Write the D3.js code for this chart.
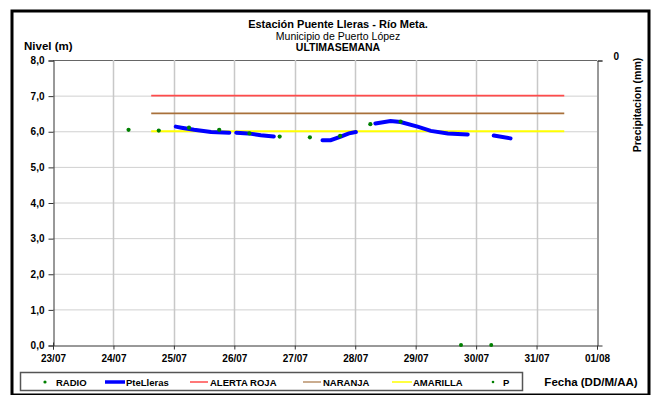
<!DOCTYPE html>
<html><head><meta charset="utf-8">
<script src="https://cdn.jsdelivr.net/npm/d3@7/dist/d3.min.js"></script>
<style>body{margin:0;background:#fff}svg{display:block;font-family:"Liberation Sans",Arial,sans-serif}</style>
</head><body><svg id="c" width="651" height="395"></svg>
<script>
const xTickDates = ["2013-07-23","2013-07-24","2013-07-25","2013-07-26","2013-07-27","2013-07-28","2013-07-29","2013-07-30","2013-07-31","2013-08-01"];
const yTicks = [0,1,2,3,4,5,6,7,8];
const pteTimes = ["2013-07-25T00:45","2013-07-25T03:00","2013-07-25T08:00","2013-07-25T14:45","2013-07-25T22:00","2013-07-25T23:30",
 "2013-07-26T00:45","2013-07-26T05:30","2013-07-26T10:30","2013-07-26T15:40","2013-07-27T00:00",
 "2013-07-27T11:00","2013-07-27T14:15","2013-07-27T18:15","2013-07-27T21:30","2013-07-28T00:15","2013-07-28T04:00",
 "2013-07-28T08:00","2013-07-28T14:00","2013-07-28T18:00","2013-07-29T00:45","2013-07-29T06:00","2013-07-29T12:45","2013-07-29T20:40","2013-07-30T00:00",
 "2013-07-30T07:00","2013-07-30T13:40"];
const pteValues = [6.13,6.10,6.04,5.98,5.96,null,
 5.96,5.94,5.89,5.85,null,
 5.75,5.75,5.85,5.94,5.98,null,
 6.22,6.29,6.26,6.13,6.01,5.94,5.91,null,
 5.88,5.80];
const radioTimes = ["2013-07-24T06:00","2013-07-24T18:00","2013-07-25T06:00","2013-07-25T18:00","2013-07-26T06:00","2013-07-26T18:00","2013-07-27T06:00","2013-07-27T18:00","2013-07-28T06:00","2013-07-28T18:00"];
const radioValues = [6.04,6.02,6.10,6.04,5.94,5.85,5.83,5.87,6.20,6.27];
const pTimes = ["2013-07-29T18:00","2013-07-30T06:00"];
const pValues = [0,0];
const alertTimes = ["2013-07-24T15:00","2013-07-31T11:00"];
const alertRoja = [7.0,7.0];
const alertNaranja = [6.5,6.5];
const alertAmarilla = [6.0,6.0];
const precipTicks = [0];

const parse = s => new Date(s);
const svg = d3.select("#c");
const L=53, R=597, T=60, B=345;
const x = d3.scaleTime().domain([parse(xTickDates[0]), parse(xTickDates[xTickDates.length-1])]).range([L,R]);
const y = d3.scaleLinear().domain([0,8]).range([B,T]);
const yP = d3.scaleLinear().domain([0,1]).range([T,B]);

// outer frame
svg.append("rect").attr("x",12).attr("y",11).attr("width",637).attr("height",384).attr("fill","#fff").attr("stroke","#000").attr("stroke-width",3);

// gridlines
const g = svg.append("g");
g.selectAll("line.h").data(yTicks.slice(1)).join("line").attr("x1",L).attr("x2",R).attr("y1",d=>y(d)+0.5).attr("y2",d=>y(d)+0.5).attr("stroke",d=>d===8?"#666":"#d0d0d0").attr("stroke-width",1);
g.selectAll("line.v").data(xTickDates.slice(1,-1)).join("line").attr("x1",d=>Math.round(x(parse(d)))+0.5).attr("x2",d=>Math.round(x(parse(d)))+0.5).attr("y1",T).attr("y2",B).attr("stroke","#c8c8c8").attr("stroke-width",1.5);

// axes
const axL = d3.axisLeft(y).tickValues(yTicks).tickSize(5).tickFormat(d=>d3.format(".1f")(d).replace(".",","));
const gl = svg.append("g").attr("transform",`translate(${L+0.5},0.5)`).call(axL);
const axB = d3.axisBottom(x).tickValues(xTickDates.map(parse)).tickSize(4).tickFormat(d3.timeFormat("%d/%m"));
const gb = svg.append("g").attr("transform",`translate(0,${B+0.5})`).call(axB);
const axR = d3.axisRight(yP).tickValues(precipTicks).tickSize(5).tickFormat(d3.format("d"));
const gr = svg.append("g").attr("transform",`translate(${R+0.5},0.5)`).call(axR);
[gl,gb,gr].forEach(a=>{a.select(".domain").attr("stroke","#333");a.selectAll(".tick line").attr("stroke","#333");a.selectAll("text").attr("font-family","Liberation Sans, Arial").attr("font-weight","bold").attr("font-size",10).attr("fill","#000");});
gl.selectAll("text").attr("dx",-1);
gb.selectAll("text").attr("dy","0.9em");
gr.selectAll("text").attr("dx",8).attr("dy","-0.1em");
gb.select(".tick line").attr("y1",-3);

// alert lines
const line = d3.line().defined(d=>d[1]!=null).x(d=>x(parse(d[0]))).y(d=>y(d[1]));
[[alertRoja,"#ff4b4b"],[alertNaranja,"#a8703a"],[alertAmarilla,"#ffff00"]].forEach(([vals,c])=>{
  svg.append("path").attr("d",line(d3.zip(alertTimes,vals))).attr("stroke",c).attr("stroke-width",1.8).attr("fill","none");
});

// PteLleras
svg.append("path").attr("d",line(d3.zip(pteTimes,pteValues))).attr("stroke","#0000ff").attr("stroke-width",4).attr("stroke-linecap","round").attr("fill","none");

// radio
svg.selectAll("circle.r").data(d3.zip(radioTimes,radioValues)).join("circle").attr("cx",d=>x(parse(d[0]))).attr("cy",d=>y(d[1])).attr("r",2.1).attr("fill","#008000");
// P
svg.selectAll("circle.p").data(d3.zip(pTimes,pValues)).join("circle").attr("cx",d=>x(parse(d[0]))).attr("cy",d=>y(d[1])).attr("r",2).attr("fill","#008000");

// titles
const tt = (t,xx,yy,sz,w,anchor)=>svg.append("text").text(t).attr("x",xx).attr("y",yy).attr("font-size",sz).attr("font-weight",w).attr("text-anchor",anchor||"middle").attr("fill","#000");
tt("Estación Puente Lleras - Río Meta.",338,28,11,"bold");
tt("Municipio de Puerto López",338,39.5,10.5,"normal");
tt("ULTIMASEMANA",338,51,10.5,"bold");
tt("Nivel (m)",24,50,11.5,"bold","start");
svg.append("text").text("Precipitacion (mm)").attr("transform","translate(641,105) rotate(-90)").attr("text-anchor","middle").attr("font-size",10.5).attr("font-weight","bold");
tt("Fecha (DD/M/AA)",591,386,11.5,"bold");

// legend
svg.append("rect").attr("x",20.5).attr("y",372.5).attr("width",502).attr("height",18).attr("fill","#fff").attr("stroke","#555").attr("stroke-width",1.5);
const ly=382;
const lg = svg.append("g").attr("font-size",9.5).attr("font-weight","bold");
svg.append("circle").attr("cx",45).attr("cy",ly).attr("r",1.6).attr("fill","#008000");
lg.append("text").text("RADIO").attr("x",56).attr("y",ly+3.5);
svg.append("line").attr("x1",105).attr("x2",125).attr("y1",ly).attr("y2",ly).attr("stroke","#0000ff").attr("stroke-width",3.5);
lg.append("text").text("PteLleras").attr("x",126).attr("y",ly+3.5);
svg.append("line").attr("x1",190).attr("x2",208).attr("y1",ly).attr("y2",ly).attr("stroke","#ff4b4b").attr("stroke-width",1.5);
lg.append("text").text("ALERTA ROJA").attr("x",210).attr("y",ly+3.5);
svg.append("line").attr("x1",303).attr("x2",321).attr("y1",ly).attr("y2",ly).attr("stroke","#b8906a").attr("stroke-width",1.5);
lg.append("text").text("NARANJA").attr("x",323).attr("y",ly+3.5);
svg.append("line").attr("x1",392).attr("x2",412).attr("y1",ly).attr("y2",ly).attr("stroke","#ffff00").attr("stroke-width",1.5);
lg.append("text").text("AMARILLA").attr("x",413).attr("y",ly+3.5);
svg.append("circle").attr("cx",493).attr("cy",ly).attr("r",1.3).attr("fill","#008000");
lg.append("text").text("P").attr("x",503).attr("y",ly+3.5);
</script></body></html>
